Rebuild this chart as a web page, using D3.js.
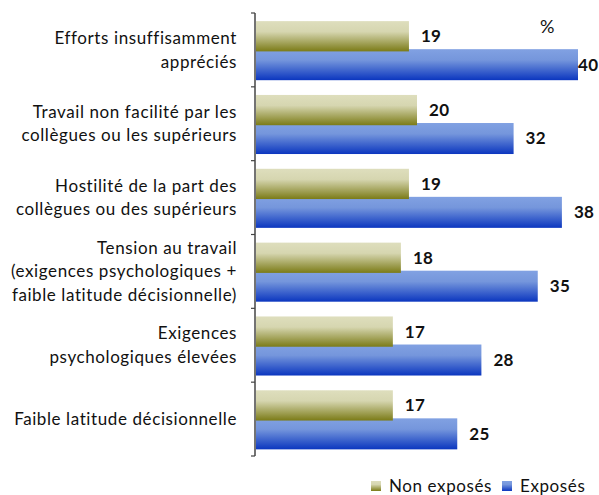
<!DOCTYPE html>
<html>
<head>
<meta charset="utf-8">
<script src="https://cdn.jsdelivr.net/npm/d3@7"></script>
<style>
  body { margin: 0; background: #fff; }
  svg { display: block; font-family: Lato, "Open Sans", sans-serif; }
</style>
</head>
<body>
<div id="svg-container"></div>
<script>
// data
const categories = [
  ["Efforts insuffisamment", "appréciés"],
  ["Travail non facilité par les", "collègues ou les supérieurs"],
  ["Hostilité de la part des", "collègues ou des supérieurs"],
  ["Tension au travail", "(exigences psychologiques +", "faible latitude décisionnelle)"],
  ["Exigences", "psychologiques élevées"],
  ["Faible latitude décisionnelle"]
];
const nonExposes = [19, 20, 19, 18, 17, 17];
const exposes = [40, 32, 38, 35, 28, 25];
const seriesNames = ["Non exposés", "Exposés"];

const width = 599, height = 495;
const margin = { top: 13, right: 21, bottom: 39, left: 256 };

const svg = d3.select("#svg-container").append("svg")
  .attr("width", width).attr("height", height);

// gradients
const defs = svg.append("defs");
const olive = defs.append("linearGradient").attr("id", "g-olive")
  .attr("x1", 0).attr("y1", 0).attr("x2", 0).attr("y2", 1);
olive.append("stop").attr("offset", "0%").attr("stop-color", "#dedebd");
olive.append("stop").attr("offset", "35%").attr("stop-color", "#d6d6b0");
olive.append("stop").attr("offset", "100%").attr("stop-color", "#7b7b17");
const blue = defs.append("linearGradient").attr("id", "g-blue")
  .attr("x1", 0).attr("y1", 0).attr("x2", 0).attr("y2", 1);
blue.append("stop").attr("offset", "0%").attr("stop-color", "#81a1e2");
blue.append("stop").attr("offset", "35%").attr("stop-color", "#7596dc");
blue.append("stop").attr("offset", "100%").attr("stop-color", "#0b36bf");

// scales
const idx = d3.range(categories.length);
const yScale = d3.scaleBand().domain(idx).range([margin.top, height - margin.bottom]);
const xScale = d3.scaleLinear().domain([0, 40]).range([margin.left, width - margin.right]);
const bw = yScale.bandwidth();

// bars
const bars = svg.append("g");
bars.selectAll(".exp").data(exposes).join("rect")
  .attr("class", "exp")
  .attr("x", xScale(0))
  .attr("y", (d, i) => yScale(i) + bw * 0.49)
  .attr("width", d => xScale(d) - xScale(0))
  .attr("height", bw * 0.42)
  .attr("fill", "url(#g-blue)");
bars.selectAll(".non").data(nonExposes).join("rect")
  .attr("class", "non")
  .attr("x", xScale(0))
  .attr("y", (d, i) => yScale(i) + bw * 0.11)
  .attr("width", d => xScale(d) - xScale(0))
  .attr("height", bw * 0.41)
  .attr("fill", "url(#g-olive)");

// value labels
const labels = svg.append("g").attr("font-weight", "bold").attr("font-size", 17)
  .attr("letter-spacing", 0.3).attr("fill", "#111");
labels.selectAll(".lnon").data(nonExposes).join("text")
  .attr("x", d => xScale(d) + 12)
  .attr("y", (d, i) => yScale(i) + bw * 0.315)
  .attr("dy", "0.35em")
  .text(d => d);
labels.selectAll(".lexp").data(exposes).join("text")
  .attr("x", d => Math.min(xScale(d) + 12, width - 21))
  .attr("y", (d, i) => yScale(i) + bw * 0.70)
  .attr("dy", "0.35em")
  .text(d => d);

// axis
svg.append("line")
  .attr("x1", xScale(0) - 1).attr("x2", xScale(0) - 1)
  .attr("y1", margin.top).attr("y2", height - margin.bottom)
  .attr("stroke", "#444").attr("stroke-width", 1.5);
svg.append("g").selectAll("line").data(d3.range(categories.length + 1)).join("line")
  .attr("x1", xScale(0) - 5).attr("x2", xScale(0) - 1)
  .attr("y1", i => margin.top + i * bw).attr("y2", i => margin.top + i * bw)
  .attr("stroke", "#444").attr("stroke-width", 1.2);

// category labels
const lineH = 23.5;
const cat = svg.append("g").attr("font-size", 17).attr("letter-spacing", 0.6)
  .attr("fill", "#111").attr("text-anchor", "end");
categories.forEach((lines, i) => {
  const cy = yScale(i) + bw / 2;
  const t = cat.append("text").attr("x", 237);
  lines.forEach((l, j) => {
    t.append("tspan").attr("x", 237)
      .attr("y", cy + (j - (lines.length - 1) / 2) * lineH)
      .attr("dy", "0.35em")
      .text(l);
  });
});

// percent sign
svg.append("text").attr("x", 540).attr("y", 27).attr("dy", "0.35em")
  .attr("font-size", 18).attr("fill", "#111").text("%");

// legend
const legend = svg.append("g").attr("font-size", 17).attr("letter-spacing", 0.6).attr("fill", "#111");
const legX = [371, 502];
const legFill = ["url(#g-olive)", "url(#g-blue)"];
seriesNames.forEach((s, i) => {
  legend.append("rect").attr("x", legX[i]).attr("y", 481).attr("width", 10).attr("height", 10)
    .attr("fill", legFill[i]);
  legend.append("text").attr("x", legX[i] + 18).attr("y", 486).attr("dy", "0.35em").text(s);
});
</script>
</body>
</html>
